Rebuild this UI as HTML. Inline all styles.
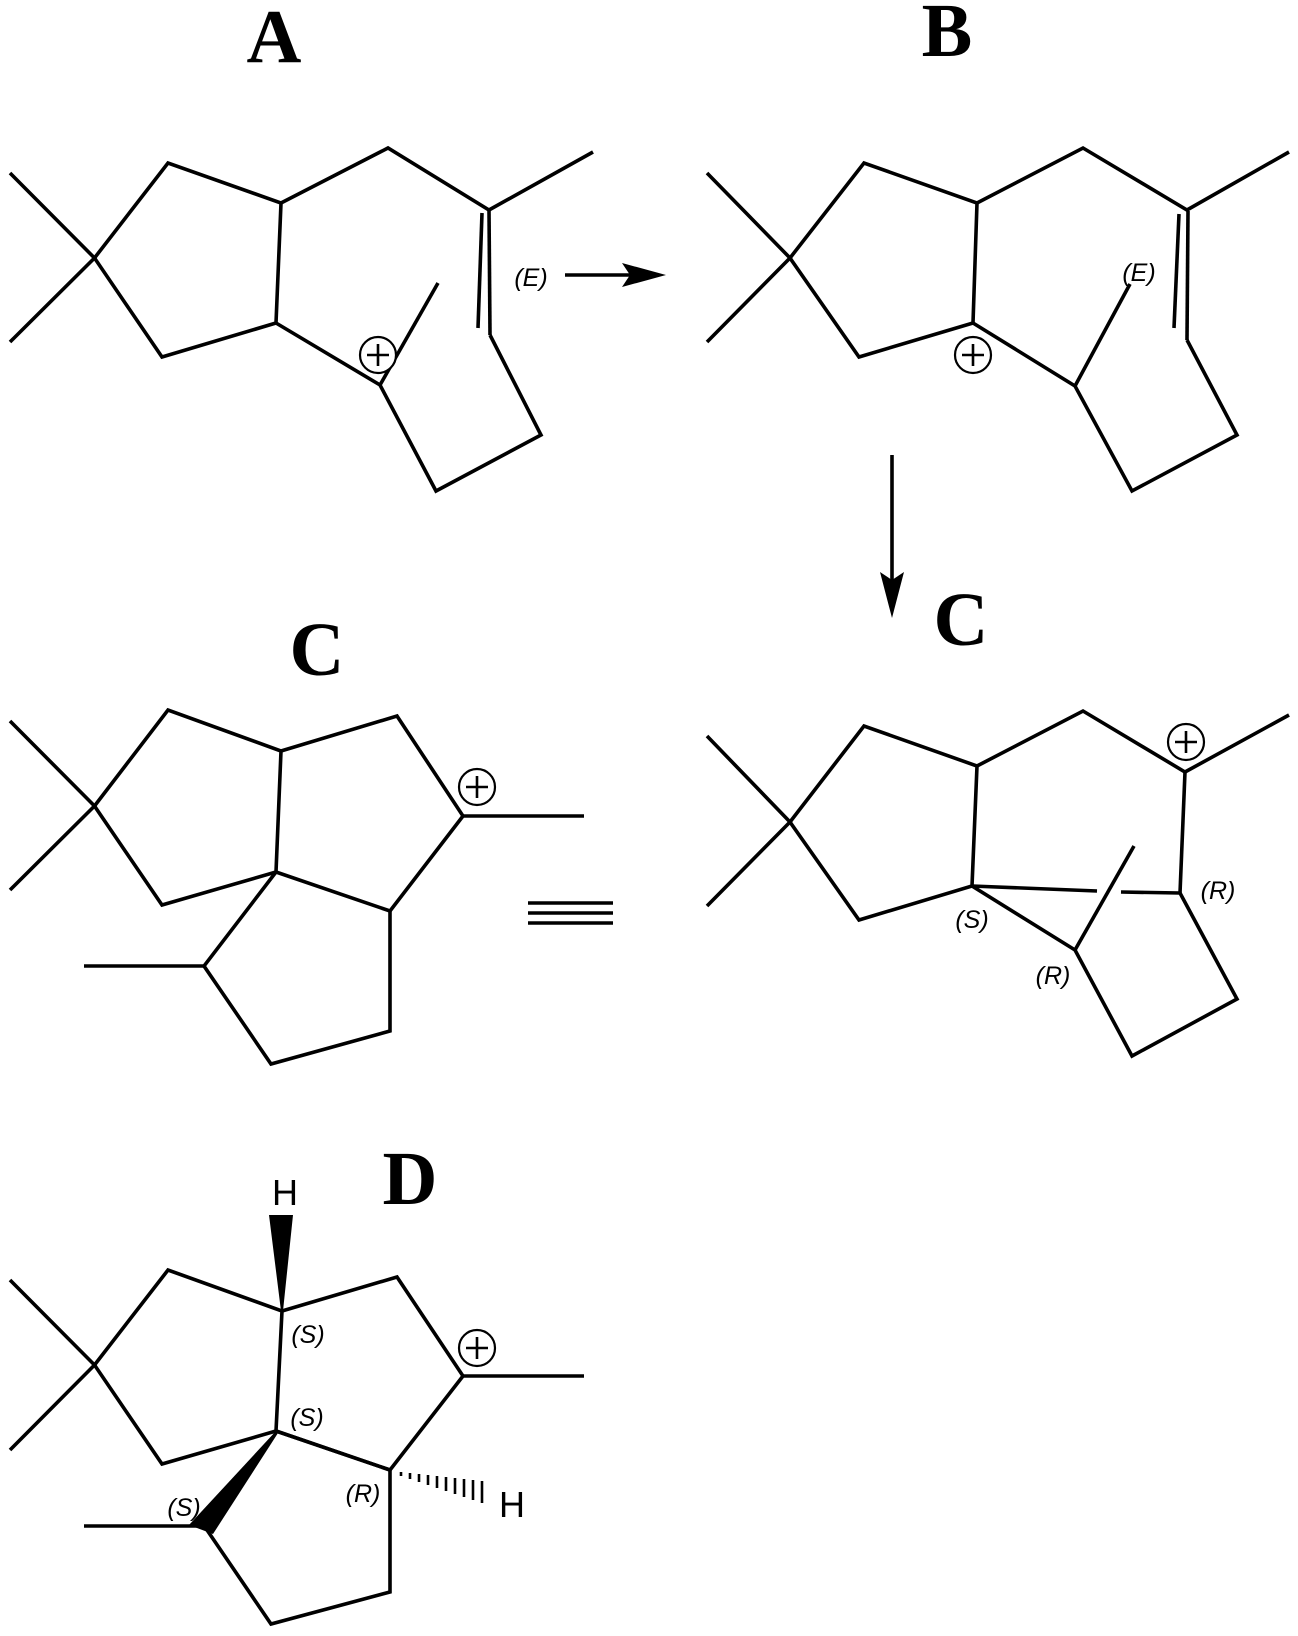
<!DOCTYPE html>
<html><head><meta charset="utf-8"><style>
html,body{margin:0;padding:0;background:#fff;}
svg{display:block;}
.b{fill:none;stroke:#000;stroke-width:3.6;stroke-linejoin:miter;stroke-linecap:butt;}
.t{font-family:"Liberation Serif",serif;font-weight:bold;font-size:76px;text-anchor:middle;}
.l{font-family:"Liberation Sans",sans-serif;font-style:italic;font-size:25px;text-anchor:middle;}
.h{font-family:"Liberation Sans",sans-serif;font-size:36px;text-anchor:middle;}
.pc{fill:#fff;stroke:#000;stroke-width:2.2;}
.pl{stroke:#000;stroke-width:2.6;}
</style></head><body>
<svg width="1298" height="1636" viewBox="0 0 1298 1636" xmlns="http://www.w3.org/2000/svg">
<defs>
<g id="plus"><circle class="pc" r="18"/><line class="pl" x1="-11" y1="0" x2="11" y2="0"/><line class="pl" x1="0" y1="-11" x2="0" y2="11"/></g>
</defs>

<!-- A -->
<text class="t" x="274" y="62">A</text>
<polyline class="b" points="10,173 94.5,258 10,342"/>
<polygon class="b" points="94.5,258 168,163 281,203 276,323 162,357"/>
<polyline class="b" points="281,203 388,148 489,210 593,152"/>
<line class="b" x1="489" y1="210" x2="490" y2="335"/>
<line class="b" x1="482" y1="213" x2="478" y2="328"/>
<polyline class="b" points="490,335 541,435 436,491 380,385 276,323"/>
<line class="b" x1="380" y1="385" x2="438" y2="283"/>
<use href="#plus" x="378" y="355"/>
<text class="l" x="531" y="286">(E)</text>
<line class="b" x1="565" y1="275" x2="630" y2="275"/>
<polygon points="666,275 622,263 630,275 622,287" fill="#000"/>

<!-- B -->
<text class="t" x="947" y="56">B</text>
<polyline class="b" points="707,173 790,258 707,342"/>
<polygon class="b" points="790,258 864,163 977,203 973,323 859,357"/>
<polyline class="b" points="977,203 1083,148 1187,210 1289,152"/>
<line class="b" x1="1188" y1="211" x2="1187" y2="340"/>
<line class="b" x1="1179" y1="214" x2="1174" y2="328"/>
<polyline class="b" points="1187,340 1237,435 1132,491 1075,386 973,323"/>
<line class="b" x1="1075" y1="386" x2="1130" y2="284"/>
<use href="#plus" x="973" y="355"/>
<text class="l" x="1139" y="281">(E)</text>
<line class="b" x1="892" y1="455" x2="892" y2="580"/>
<polygon points="892,618 880,572 892,580 904,572" fill="#000"/>

<!-- C left -->
<text class="t" x="317" y="675">C</text>
<polyline class="b" points="10,721 94.5,806 10,890"/>
<polygon class="b" points="94.5,806 168,710 281,751 276,872 162,905"/>
<polyline class="b" points="281,751 397,716 463,816 390,911 276,872"/>
<line class="b" x1="463" y1="816" x2="584" y2="816"/>
<polyline class="b" points="390,911 390,1031 271,1064 204,966 276,872"/>
<line class="b" x1="204" y1="966" x2="84" y2="966"/>
<use href="#plus" x="477" y="787"/>
<line class="b" x1="528" y1="903" x2="613" y2="903"/>
<line class="b" x1="528" y1="913" x2="613" y2="913"/>
<line class="b" x1="528" y1="923" x2="613" y2="923"/>

<!-- C right -->
<text class="t" x="961" y="645">C</text>
<polyline class="b" points="707,736 790,822 707,906"/>
<polygon class="b" points="790,822 864,726 977,766 972,886 859,920"/>
<polyline class="b" points="977,766 1083,711 1185,772 1289,715"/>
<line class="b" x1="1185" y1="772" x2="1180" y2="893"/>
<line class="b" x1="972" y1="886" x2="1097" y2="891"/>
<line class="b" x1="1121" y1="892" x2="1180" y2="893"/>
<polyline class="b" points="972,886 1075,950 1132,1056 1237,999 1180,893"/>
<line class="b" x1="1075" y1="950" x2="1134" y2="846"/>
<use href="#plus" x="1186" y="742"/>
<text class="l" x="1218" y="899">(R)</text>
<text class="l" x="972" y="928">(S)</text>
<text class="l" x="1053" y="984">(R)</text>

<!-- D -->
<text class="t" x="410" y="1204">D</text>
<text class="h" x="285" y="1205">H</text>
<polygon points="269,1215 293,1215 283,1311 281,1311" fill="#000"/>
<polyline class="b" points="10,1280 94.5,1365 10,1450"/>
<polygon class="b" points="94.5,1365 168,1270 282,1311 276,1431 162,1464"/>
<polyline class="b" points="282,1311 397,1277 463,1376 390,1470 276,1431"/>
<line class="b" x1="463" y1="1376" x2="584" y2="1376"/>
<polyline class="b" points="390,1470 390,1592 271,1624 207,1530"/>
<line class="b" x1="84" y1="1526" x2="207" y2="1526"/>
<polygon points="276,1431 189,1525 213,1534 278,1433" fill="#000"/>
<line class="b" x1="390" y1="1470" x2="276" y2="1431"/>
<use href="#plus" x="477" y="1348"/>
<g stroke="#000" stroke-width="2.6">
<line x1="401" y1="1472" x2="401" y2="1476"/>
<line x1="410" y1="1473" x2="410" y2="1479"/>
<line x1="419" y1="1474" x2="419" y2="1482"/>
<line x1="428" y1="1475" x2="428" y2="1485"/>
<line x1="437" y1="1476" x2="437" y2="1488"/>
<line x1="446" y1="1477" x2="446" y2="1491"/>
<line x1="455" y1="1478" x2="455" y2="1494"/>
<line x1="464" y1="1479" x2="464" y2="1497"/>
<line x1="473" y1="1480" x2="473" y2="1500"/>
<line x1="482" y1="1481" x2="482" y2="1503"/>
</g>
<text class="h" x="512" y="1517">H</text>
<text class="l" x="308" y="1343">(S)</text>
<text class="l" x="307" y="1426">(S)</text>
<text class="l" x="363" y="1502">(R)</text>
<text class="l" x="184" y="1516">(S)</text>
</svg>
</body></html>
